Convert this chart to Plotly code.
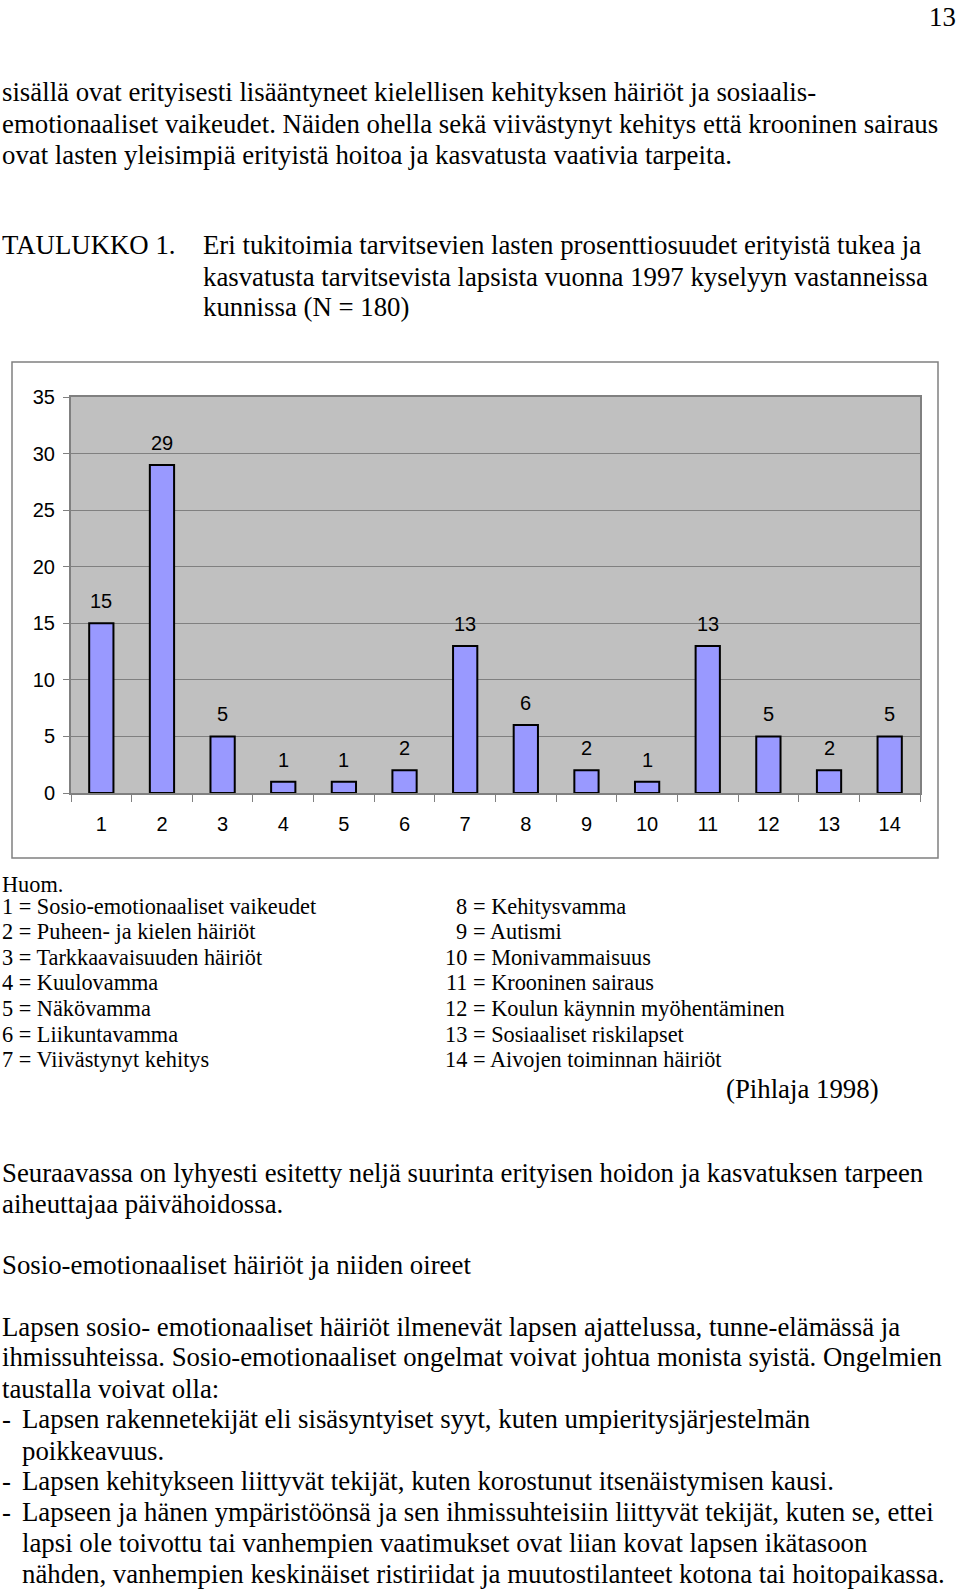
import plotly.graph_objects as go

W, H = 960, 1590

# ---------------- data ----------------
categories = [str(i) for i in range(1, 15)]
values = [15, 29, 5, 1, 1, 2, 13, 6, 2, 1, 13, 5, 2, 5]
y_tick_values = [0, 5, 10, 15, 20, 25, 30, 35]

page_number = "13"
intro_lines = [
    "sisällä ovat erityisesti lisääntyneet kielellisen kehityksen häiriöt ja sosiaalis-",
    "emotionaaliset vaikeudet. Näiden ohella sekä viivästynyt kehitys että krooninen sairaus",
    "ovat lasten yleisimpiä erityistä hoitoa ja kasvatusta vaativia tarpeita.",
]
table_label = "TAULUKKO 1."
table_title_lines = [
    "Eri tukitoimia tarvitsevien lasten prosenttiosuudet erityistä tukea ja",
    "kasvatusta tarvitsevista lapsista vuonna 1997 kyselyyn vastanneissa",
    "kunnissa (N = 180)",
]
note_heading = "Huom."
legend_left = [
    "1 = Sosio-emotionaaliset vaikeudet",
    "2 = Puheen- ja kielen häiriöt",
    "3 = Tarkkaavaisuuden häiriöt",
    "4 = Kuulovamma",
    "5 = Näkövamma",
    "6 = Liikuntavamma",
    "7 = Viivästynyt kehitys",
]
legend_right_num = ["8", "9", "10", "11", "12", "13", "14"]
legend_right_text = [
    "= Kehitysvamma",
    "= Autismi",
    "= Monivammaisuus",
    "= Krooninen sairaus",
    "= Koulun käynnin myöhentäminen",
    "= Sosiaaliset riskilapset",
    "= Aivojen toiminnan häiriöt",
]
source_text = "(Pihlaja 1998)"
body_lines = [
    ("", "Seuraavassa on lyhyesti esitetty neljä suurinta erityisen hoidon ja kasvatuksen tarpeen"),
    ("", "aiheuttajaa päivähoidossa."),
    ("", "Sosio-emotionaaliset häiriöt ja niiden oireet"),
    ("", "Lapsen sosio- emotionaaliset häiriöt ilmenevät lapsen ajattelussa, tunne-elämässä ja"),
    ("", "ihmissuhteissa. Sosio-emotionaaliset ongelmat voivat johtua monista syistä. Ongelmien"),
    ("", "taustalla voivat olla:"),
    ("-", "Lapsen rakennetekijät eli sisäsyntyiset syyt, kuten umpieritysjärjestelmän"),
    ("", "  poikkeavuus."),
    ("-", "Lapsen kehitykseen liittyvät tekijät, kuten korostunut itsenäistymisen kausi."),
    ("-", "Lapseen ja hänen ympäristöönsä ja sen ihmissuhteisiin liittyvät tekijät, kuten se, ettei"),
    ("", "  lapsi ole toivottu tai vanhempien vaatimukset ovat liian kovat lapsen ikätasoon"),
    ("", "  nähden, vanhempien keskinäiset ristiriidat ja muutostilanteet kotona tai hoitopaikassa."),
]

# ---------------- layout helpers ----------------
SERIF = "Liberation Serif, Times New Roman, serif"
SANS = "Liberation Sans, Arial, sans-serif"
BODY = 26.8
LEG = 22.3


def px(x):
    return x / W


def py(y):
    return 1 - y / H


annotations = []


def text(x, y, s, size=BODY, anchor="left", font=SERIF):
    annotations.append(dict(
        x=px(x), y=py(y), xref="paper", yref="paper", text=s, showarrow=False,
        xanchor=anchor, yanchor="middle", borderpad=0, borderwidth=0,
        font=dict(family=font, size=size, color="black"),
    ))


text(956, 17, page_number, anchor="right")
intro_y = [92, 124, 155]
for yy, s in zip(intro_y, intro_lines):
    text(2, yy, s)

text(2, 245, table_label)
title_y = [245, 277, 307]
for yy, s in zip(title_y, table_title_lines):
    text(203, yy, s)

text(2, 884, note_heading, size=LEG)
leg_y = [906, 931, 957, 982, 1008, 1034, 1059]
for yy, s in zip(leg_y, legend_left):
    text(2, yy, s, size=LEG)
for yy, n, s in zip(leg_y, legend_right_num, legend_right_text):
    text(467, yy, n, size=LEG, anchor="right")
    text(473, yy, s, size=LEG)
text(879, 1089, source_text, anchor="right")

body_y = [1173, 1204, 1265, 1327, 1357, 1389, 1419, 1451, 1481, 1512, 1543, 1574]
for yy, (bullet, s) in zip(body_y, body_lines):
    if bullet:
        text(2, yy, bullet)
        text(22, yy, s)
    elif s.startswith("  "):
        text(22, yy, s.strip())
    else:
        text(2, yy, s)

# data labels above bars (category index positions on the x axis)
for i, v in enumerate(values):
    annotations.append(dict(
        x=i, y=v, xref="x", yref="y", text=str(v), showarrow=False,
        xanchor="center", yanchor="middle", yshift=22,
        font=dict(family=SANS, size=20, color="black"),
    ))

# ---------------- figure ----------------
fig = go.Figure()
fig.add_trace(go.Bar(
    x=categories, y=values, width=0.4,
    marker=dict(color="#9999FF", line=dict(color="black", width=2)),
    hoverinfo="skip",
))

PLOT_L, PLOT_R, PLOT_T, PLOT_B = 71, 920, 397, 793

fig.update_layout(
    width=W, height=H, autosize=False,
    margin=dict(l=0, r=0, t=0, b=0, pad=0, autoexpand=False),
    paper_bgcolor="white", plot_bgcolor="#C0C0C0",
    showlegend=False,
    annotations=annotations,
    shapes=[dict(
        type="rect", xref="paper", yref="paper",
        x0=px(12), x1=px(938), y0=py(858), y1=py(362),
        line=dict(color="#808080", width=1.5), fillcolor="rgba(0,0,0,0)", layer="below",
    )],
    xaxis=dict(
        domain=[px(PLOT_L), px(PLOT_R)],
        type="category", categoryorder="array", categoryarray=categories,
        showgrid=False, zeroline=False,
        showline=True, linecolor="#808080", linewidth=2, mirror=True,
        ticks="outside", tickson="boundaries", ticklen=7, tickcolor="#808080", tickwidth=1,
        tickfont=dict(family=SANS, size=20, color="black"),
        ticklabelstandoff=12,
    ),
    yaxis=dict(
        domain=[py(PLOT_B), py(PLOT_T)],
        range=[0, 35], tickvals=y_tick_values,
        showgrid=True, gridcolor="#808080", gridwidth=1, zeroline=False,
        showline=True, linecolor="#808080", linewidth=2, mirror=True,
        ticks="outside", ticklen=6, tickcolor="#808080", tickwidth=1,
        tickfont=dict(family=SANS, size=20, color="black"),
        ticklabelstandoff=4,
    ),
)

fig.write_html("out.html")
